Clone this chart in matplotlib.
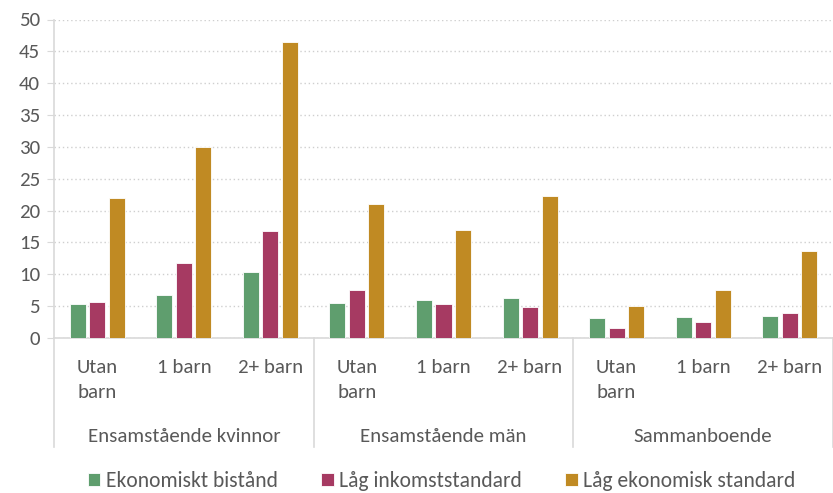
import matplotlib
matplotlib.use('Agg')
import matplotlib.pyplot as plt
import matplotlib.transforms as mtransforms
import numpy as np

plt.rcParams['font.family'] = ['Carlito', 'Lato', 'DejaVu Sans']

# data
groups = ['Ensamstående kvinnor', 'Ensamstående män', 'Sammanboende']
subcats = ['Utan\nbarn', '1 barn', '2+ barn']
series = ['Ekonomiskt bistånd', 'Låg inkomststandard', 'Låg ekonomisk standard']
ekonomiskt_bistand = [5.4, 6.7, 10.3, 5.5, 5.9, 6.3, 3.1, 3.3, 3.4]
lag_inkomststandard = [5.6, 11.7, 16.8, 7.6, 5.4, 4.8, 1.5, 2.5, 4.0]
lag_ekonomisk_standard = [21.9, 30.0, 46.4, 21.1, 17.0, 22.3, 5.0, 7.6, 13.7]
yticks = [0, 5, 10, 15, 20, 25, 30, 35, 40, 45, 50]

colors = ['#5f9e6e', '#a63a62', '#c08a23']
txt = '#595959'
gridc = '#d9d9d9'
fs = 15

fig = plt.figure(figsize=(8.33, 4.93), dpi=100)
ax = fig.add_axes([54/833, 155/493, 779/833, 318.5/493])

x = np.arange(len(ekonomiskt_bistand))
w = 0.185
off = 0.225
for i, (vals, c, lab) in enumerate(zip([ekonomiskt_bistand, lag_inkomststandard, lag_ekonomisk_standard], colors, series)):
    ax.bar(x + (i - 1) * off, vals, width=w, color=c, label=lab, zorder=3,
           edgecolor='white', linewidth=0.6)

ax.set_xlim(-0.5, len(x) - 0.5)
ax.set_ylim(0, 50)
ax.set_yticks(yticks)
ax.tick_params(axis='y', length=5, color=gridc, labelcolor=txt, labelsize=fs, pad=5)
ax.yaxis.grid(True, linestyle=(0, (1, 2)), color='#cfcfcf', linewidth=1.0, zorder=0)

# underkategorier
ax.set_xticks(x)
ax.set_xticklabels(subcats * 3, color=txt, fontsize=fs, va='top', linespacing=1.55)
ax.tick_params(axis='x', length=0, pad=15)

for s in ['top', 'right']:
    ax.spines[s].set_visible(False)
ax.spines['left'].set_color(gridc)
ax.spines['bottom'].set_color(gridc)
ax.spines['left'].set_linewidth(1.2)
ax.spines['bottom'].set_linewidth(1.2)

# gruppetiketter och avskiljare
trans = mtransforms.blended_transform_factory(ax.transData, ax.transAxes)
sep_bottom = -(447 - 338) / 318.5
for b in [-0.5, 2.5, 5.5, 8.5]:
    ax.plot([b, b], [0, sep_bottom], transform=trans, color=gridc, lw=1.2, clip_on=False)
for gi, g in enumerate(groups):
    ax.text(gi * 3 + 1, -(436 - 338) / 318.5, g, transform=trans, ha='center', va='center',
            color=txt, fontsize=fs)

fig.legend(loc='center', bbox_to_anchor=(0.53, 12/493), ncol=3, frameon=False,
           fontsize=15.5, labelcolor=txt, handlelength=0.6, handleheight=0.6,
           handletextpad=0.25, columnspacing=2.0, borderpad=0)

plt.savefig('out.png', dpi=100)
